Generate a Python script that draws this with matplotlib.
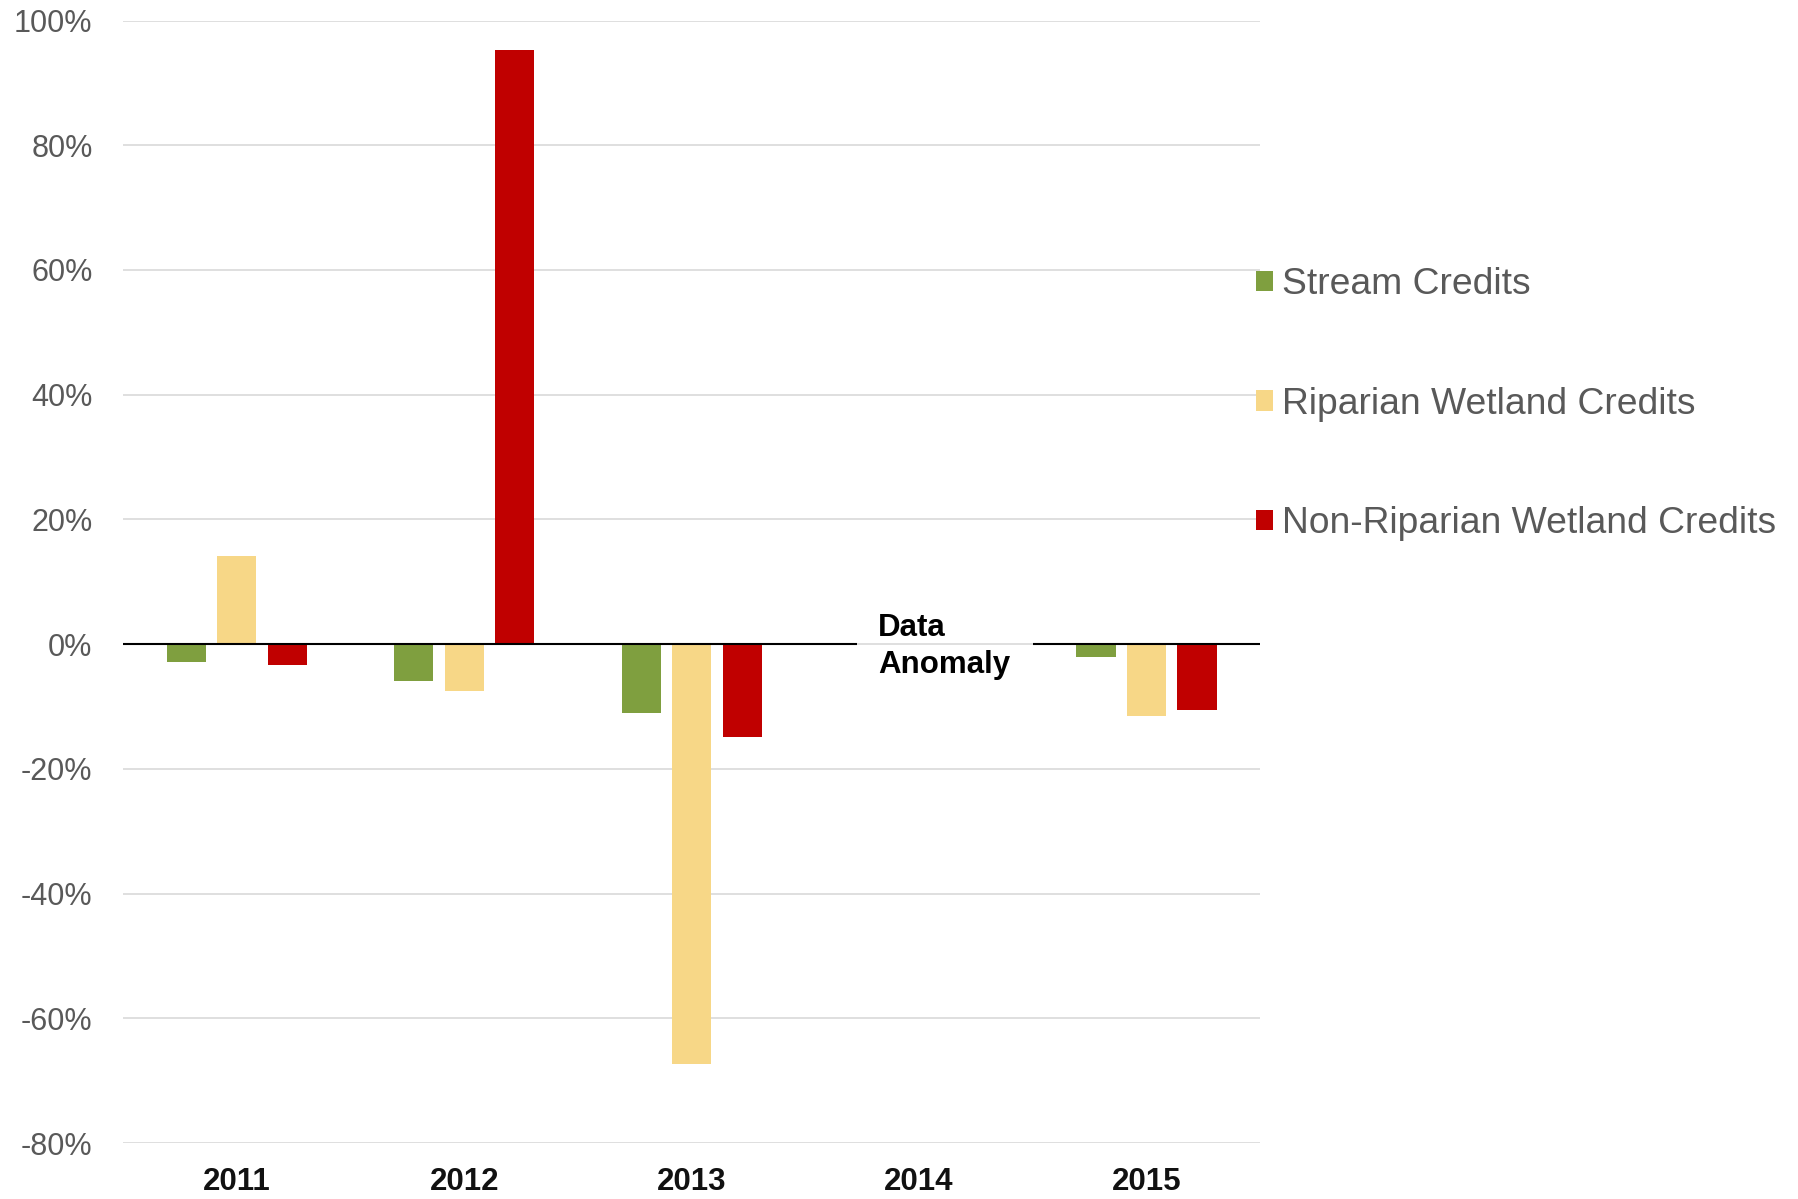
import matplotlib
matplotlib.use("Agg")
import matplotlib.pyplot as plt
import numpy as np

plt.rcParams['font.family'] = ['Liberation Sans', 'DejaVu Sans']

years = ["2011", "2012", "2013", "2014", "2015"]
stream = [-2.9, -5.9, -11.0, np.nan, -2.0]
riparian = [14.1, -7.5, -67.4, np.nan, -11.6]
non_riparian = [-3.4, 95.3, -14.9, np.nan, -10.6]
series_names = ["Stream Credits", "Riparian Wetland Credits", "Non-Riparian Wetland Credits"]
colors = ["#7f9f3f", "#f7d787", "#c00000"]
yticks = [-80, -60, -40, -20, 0, 20, 40, 60, 80, 100]

fig = plt.figure(figsize=(17.98, 11.99), dpi=100)
ax = fig.add_axes([0.0685, 0.0467, 0.6324, 0.9362])

x = np.arange(len(years))
w = 0.172
off = 0.222
handles = []
for i, (vals, name, c) in enumerate(zip([stream, riparian, non_riparian], series_names, colors)):
    b = ax.bar(x + (i - 1) * off, vals, width=w, color=c, label=name, zorder=3)
    handles.append(b)

ax.set_xlim(-0.5, len(years) - 0.5)
ax.set_ylim(-80, 100)
ax.set_yticks(yticks)
ax.set_yticklabels([f"{t}%" for t in yticks], fontsize=22, color="#595959")
ax.set_xticks(x)
ax.set_xticklabels(years, fontsize=22.5, fontweight="bold", color="#111111")
ax.tick_params(axis="y", length=0, pad=22)
ax.tick_params(axis="x", length=0, pad=17)
for s in ax.spines.values():
    s.set_visible(False)
ax.yaxis.grid(True, color="#d9d9d9", linewidth=1.2, zorder=0)
ax.set_axisbelow(True)

# zero line with a gap for the anomaly note
ax.plot([-0.5, 2.726], [0, 0], color="black", linewidth=1.5, zorder=4, solid_capstyle="butt")
ax.plot([3.5, 4.5], [0, 0], color="black", linewidth=1.5, zorder=4, solid_capstyle="butt")
ax.text(2.82, 5.0, "Data\nAnomaly", fontsize=22.5, fontweight="bold", color="black",
        ha="left", va="top", linespacing=1.3, zorder=5)

leg = fig.legend(handles=handles, labels=series_names, loc="upper left",
                 bbox_to_anchor=(0.6985, 0.777), frameon=False, fontsize=26.8,
                 handlelength=0.46, handleheight=0.46, handletextpad=0.25,
                 labelspacing=2.27, borderpad=0, borderaxespad=0)
for t in leg.get_texts():
    t.set_color("#595959")

fig.savefig("out.png", dpi=100)
